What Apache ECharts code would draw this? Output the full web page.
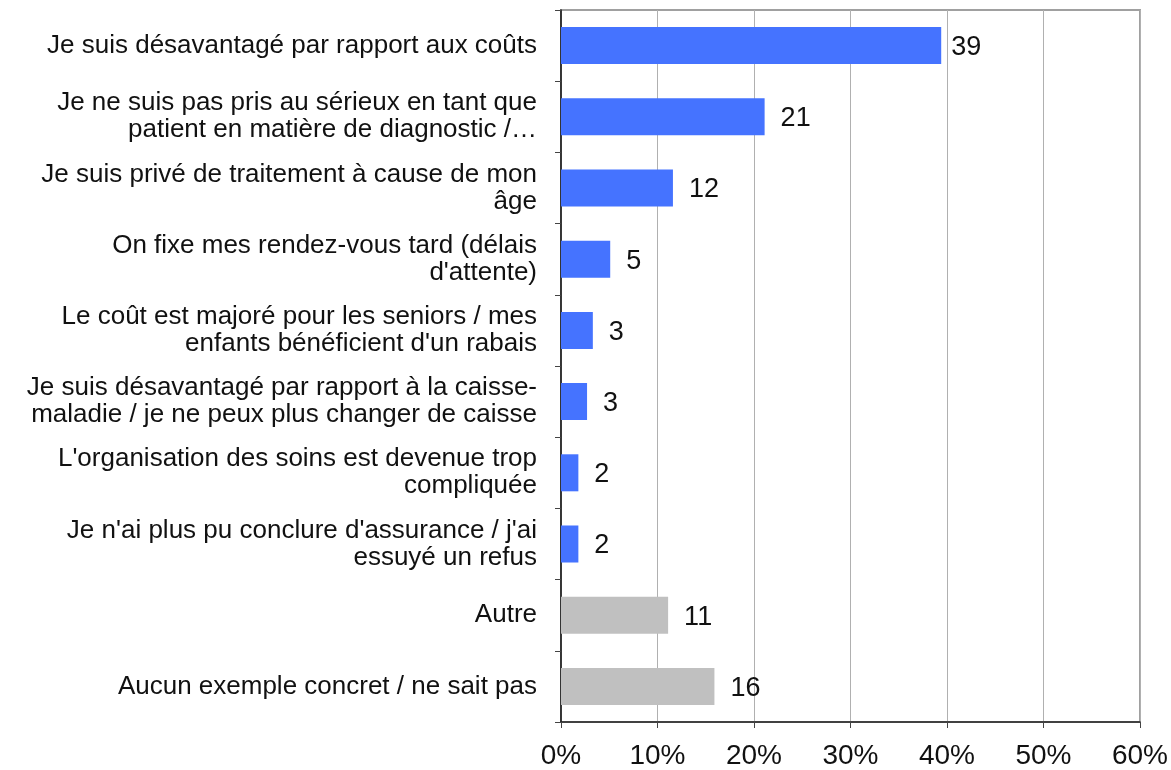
<!DOCTYPE html>
<html>
<head>
<meta charset="utf-8">
<script src="https://cdn.jsdelivr.net/npm/echarts@6/dist/echarts.min.js"></script>
<style>
  html, body { margin: 0; padding: 0; background: #fff; }
  #chart-container { width: 1171px; height: 770px; }
</style>
</head>
<body>
<div id="chart-container"></div>
<script>
const categories = [
  "Je suis désavantagé par rapport aux coûts",
  "Je ne suis pas pris au sérieux en tant que\npatient en matière de diagnostic /…",
  "Je suis privé de traitement à cause de mon\nâge",
  "On fixe mes rendez-vous tard (délais\nd'attente)",
  "Le coût est majoré pour les seniors / mes\nenfants bénéficient d'un rabais",
  "Je suis désavantagé par rapport à la caisse-\nmaladie / je ne peux plus changer de caisse",
  "L'organisation des soins est devenue trop\ncompliquée",
  "Je n'ai plus pu conclure d'assurance / j'ai\nessuyé un refus",
  "Autre",
  "Aucun exemple concret / ne sait pas",
];
const values = [39.4, 21.1, 11.6, 5.1, 3.3, 2.7, 1.8, 1.8, 11.1, 15.9];
const valueLabels = ["39", "21", "12", "5", "3", "3", "2", "2", "11", "16"];
const barColors = ["#4573FF", "#4573FF", "#4573FF", "#4573FF", "#4573FF",
  "#4573FF", "#4573FF", "#4573FF", "#C0C0C0", "#C0C0C0"];
const xTicks = [0, 10, 20, 30, 40, 50, 60];

const dom = document.getElementById("chart-container");
const myChart = echarts.init(dom, null, { renderer: "canvas" });

const option = {
  backgroundColor: "#FFFFFF",
  animation: false,
  textStyle: { fontFamily: "Liberation Sans, Arial, sans-serif" },
  grid: {
    left: 561,
    right: 31,
    top: 10,
    bottom: 48,
    outerBoundsMode: "none",
    containLabel: false,
    show: true,
    borderColor: "#A0A0A0",
    borderWidth: 2,
  },
  xAxis: {
    type: "value",
    min: xTicks[0],
    max: xTicks[xTicks.length - 1],
    interval: 10,
    axisLine: { show: true, lineStyle: { color: "#222", width: 1.5 } },
    axisTick: { show: true, length: 6, lineStyle: { color: "#444" } },
    splitLine: { show: true, lineStyle: { color: "#B0B0B0", width: 1 } },
    axisLabel: {
      formatter: "{value}%",
      fontSize: 28,
      color: "#111",
      margin: 20,
    },
  },
  yAxis: {
    type: "category",
    inverse: true,
    data: categories,
    axisLine: { show: true, lineStyle: { color: "#111", width: 1.5 } },
    axisTick: { show: true, length: 6, lineStyle: { color: "#444" } },
    axisLabel: {
      fontSize: 26,
      color: "#111",
      margin: 24,
      lineHeight: 27,
      align: "right",
    },
  },
  series: [
    {
      type: "bar",
      barWidth: "52%",
      data: values.map((v, i) => ({
        value: v,
        itemStyle: { color: barColors[i] },
        label: { distance: i === 0 ? 10 : 16 },
      })),
      label: {
        show: true,
        position: "right",
        offset: [0, 2],
        fontSize: 27,
        color: "#111",
        formatter: (p) => valueLabels[p.dataIndex],
      },
    },
  ],
};

myChart.setOption(option);
window.addEventListener("resize", myChart.resize);
</script>
</body>
</html>
